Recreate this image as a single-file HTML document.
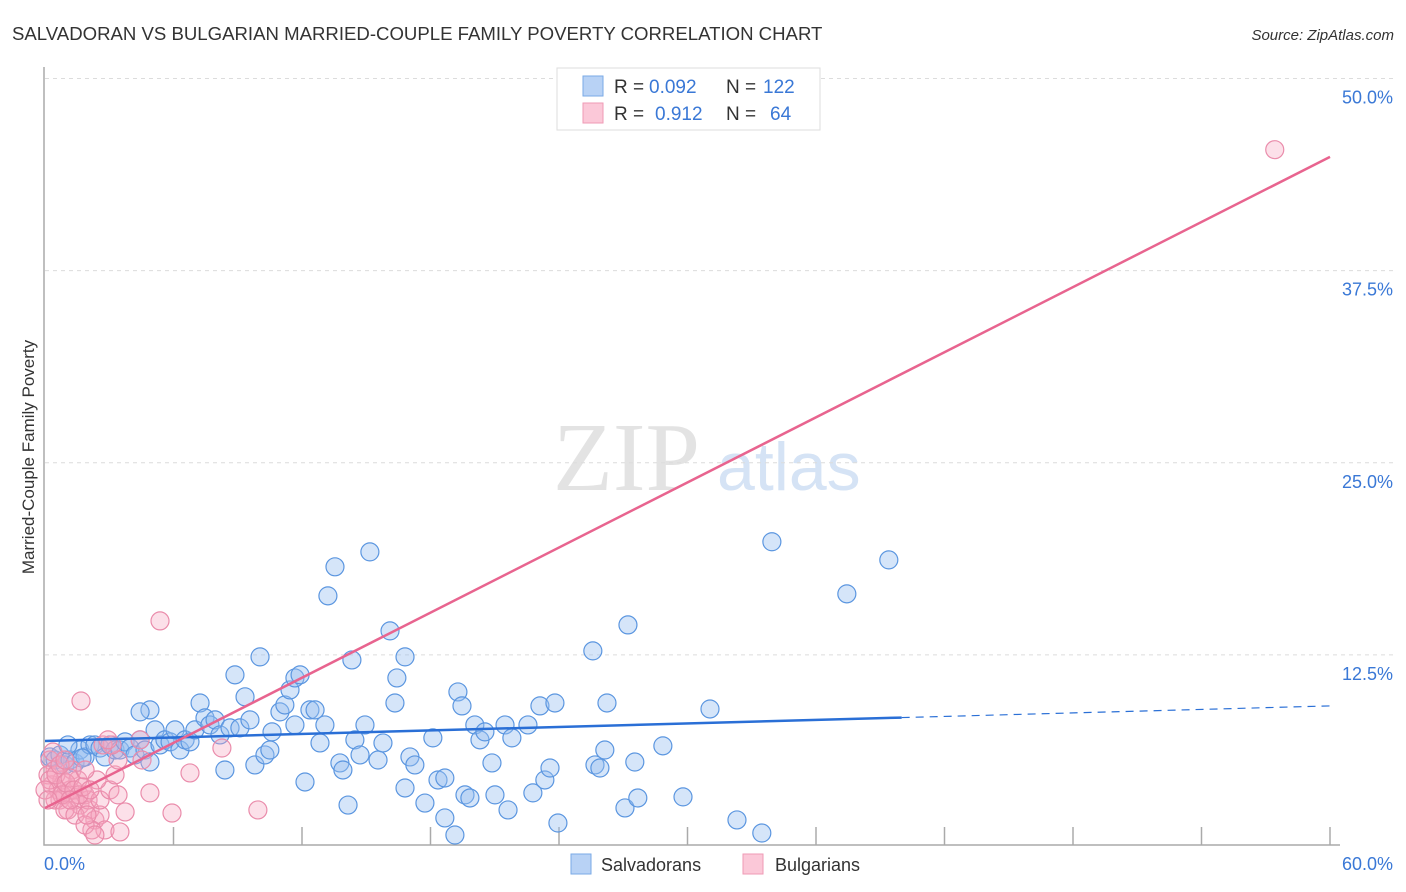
<!DOCTYPE html>
<html><head><meta charset="utf-8"><style>
body{margin:0;background:#fff;font-family:"Liberation Sans",sans-serif;}
svg{display:block}
</style></head><body>
<svg id="chart" width="1406" height="892" xmlns="http://www.w3.org/2000/svg">
<text x="12" y="40" font-size="18.6" fill="#333" font-family="Liberation Sans, sans-serif">SALVADORAN VS BULGARIAN MARRIED-COUPLE FAMILY POVERTY CORRELATION CHART</text>
<text x="1394" y="40" font-size="15" fill="#333" font-style="italic" text-anchor="end">Source: ZipAtlas.com</text>
<g>
<text x="553" y="490" font-size="98" fill="#e3e3e3" font-family="Liberation Serif, serif">ZIP</text>
<text x="717" y="490" font-size="68" fill="#d5e3f5">atlas</text>
</g>
<g id="grid"></g>
<g id="axes"></g>
<g id="marks"></g>
<g id="trends"></g>
<text transform="translate(34,457) rotate(-90)" text-anchor="middle" font-size="17" fill="#333">Married-Couple Family Poverty</text>
<g>
<rect x="557" y="68" width="263" height="62" fill="#fff" stroke="#ddd"/>
<rect x="583" y="76" width="20" height="20" fill="#b8d2f5" stroke="#7aaae6"/>
<rect x="583" y="103" width="20" height="20" fill="#fbc8d8" stroke="#ef9ab5"/>
<text x="614" y="93" font-size="19" fill="#333">R =</text>
<text x="649" y="93" font-size="19" fill="#3a78d6">0.092</text>
<text x="726" y="93" font-size="19" fill="#333">N =</text>
<text x="763" y="93" font-size="19" fill="#3a78d6">122</text>
<text x="614" y="120" font-size="19" fill="#333">R =</text>
<text x="655" y="120" font-size="19" fill="#3a78d6">0.912</text>
<text x="726" y="120" font-size="19" fill="#333">N =</text>
<text x="770" y="120" font-size="19" fill="#3a78d6">64</text>
</g>
<g>
<rect x="571" y="854" width="20" height="20" fill="#b8d2f5" stroke="#7aaae6"/>
<text x="601" y="871" font-size="18" fill="#333">Salvadorans</text>
<rect x="743" y="854" width="20" height="20" fill="#fbc8d8" stroke="#ef9ab5"/>
<text x="775" y="871" font-size="18" fill="#333">Bulgarians</text>
</g>
</svg>
<script>
const yTicks=[12.5,25,37.5,50];
const yTickLabels=["12.5%","25.0%","37.5%","50.0%"];
const xTicks=[0,6,12,18,24,30,36,42,48,54,60];
const xEndLabels=["0.0%","60.0%"];
const blueX=[0.23,0.47,0.70,0.93,1.17,1.40,1.63,1.87,2.10,2.33,2.57,2.80,3.03,3.27,3.50,3.74,3.97,4.20,4.44,4.67,4.90,5.14,5.37,5.60,5.84,6.07,6.30,6.54,6.77,7.00,7.24,7.47,7.70,7.94,8.17,8.40,8.64,8.87,9.10,9.34,9.57,9.80,10.04,10.27,10.50,10.60,10.97,11.20,11.44,11.67,11.67,11.91,12.37,12.61,12.84,12.14,13.07,13.21,13.54,13.77,13.91,14.15,14.33,14.47,14.71,14.94,15.17,15.55,15.78,16.11,16.34,16.43,16.81,16.81,17.04,17.27,17.74,18.11,18.35,18.67,18.67,19.14,19.28,19.47,19.61,19.84,20.07,20.31,20.54,20.87,21.01,21.48,21.62,21.80,22.55,22.78,23.11,23.34,23.58,23.81,23.95,25.58,25.68,25.91,26.14,26.24,27.08,27.22,27.54,27.68,28.85,29.79,31.05,32.31,33.47,33.94,37.44,39.40,1.07,1.73,4.90,4.44];
const blueY=[5.86,5.66,5.99,5.34,5.66,5.47,6.31,5.86,6.64,6.64,6.44,5.86,6.64,6.31,6.31,6.84,6.44,5.99,6.97,6.31,5.53,7.62,6.64,6.97,6.84,7.62,6.31,6.97,6.84,7.62,9.37,8.40,7.94,8.27,7.29,5.01,7.75,11.20,7.75,9.77,8.27,5.34,12.37,5.99,6.31,7.49,8.79,9.24,10.22,7.94,11.00,11.20,8.92,8.92,6.77,4.23,7.94,16.34,18.23,5.47,5.01,2.73,12.17,6.97,5.99,7.94,19.20,5.66,6.77,14.06,9.37,11.00,12.37,3.84,5.86,5.34,2.86,7.10,4.36,4.49,1.89,0.78,10.09,9.18,3.39,3.19,7.94,6.97,7.49,5.47,3.39,7.94,2.41,7.10,7.94,3.52,9.18,4.36,5.14,9.37,1.56,12.76,5.34,5.14,6.31,9.37,2.54,14.45,5.53,3.19,6.58,3.26,8.98,1.76,0.91,19.86,16.47,18.68,6.64,5.79,8.92,8.79];
const pinkX=[0.23,0.47,0.33,0.61,0.79,0.93,1.17,1.40,1.63,1.87,2.10,2.33,2.57,2.80,0.70,1.07,1.26,1.54,2.01,2.19,0.14,0.47,0.93,1.40,1.87,2.33,2.57,3.03,3.27,3.41,3.13,3.74,3.50,4.90,5.37,5.93,6.77,8.26,9.94,1.68,0.23,0.51,0.79,0.98,1.17,1.35,1.59,1.77,1.96,0,0.14,0.37,2.43,2.71,2.94,4.44,4.53,3.41,57.42,0.70,0.93,2.10,1.87,1.17];
const pinkY=[5.66,5.01,4.04,3.71,4.36,3.39,3.71,3.06,2.73,3.39,2.41,1.76,2.08,1.11,3.06,2.41,5.01,4.36,3.06,1.11,4.69,3.06,2.41,2.08,1.43,0.78,3.06,3.71,4.69,5.66,6.64,2.28,0.98,3.52,14.71,2.21,4.82,6.44,2.41,9.50,4.36,4.69,3.39,4.17,4.49,3.71,3.39,3.91,2.08,3.71,3.06,6.18,4.36,6.64,6.97,6.97,5.66,3.39,45.37,5.34,5.66,3.71,5.01,3.06];
const blueTrend=[6.9,9.18];
const blueSolidEnd=[40];
const pinkTrend=[2.54,44.9];

const NS="http://www.w3.org/2000/svg";
const X0=45,X1=1330,Y0=847,YPER=15.37;
const sx=v=>X0+(X1-X0)*v/60;
const sy=v=>Y0-v*YPER;
function mk(tag,attrs,parent){const e=document.createElementNS(NS,tag);for(const k in attrs)e.setAttribute(k,attrs[k]);parent.appendChild(e);return e;}
const grid=document.getElementById('grid'),axes=document.getElementById('axes'),marks=document.getElementById('marks'),trends=document.getElementById('trends');
yTicks.forEach((t,i)=>{
 const l=mk('line',{x1:X0,x2:1393,y1:sy(t),y2:sy(t),stroke:'#dcdcdc','stroke-dasharray':'4,4'},grid);
 
 
 const tx=mk('text',{x:1393,y:sy(t)+25,'text-anchor':'end','font-size':18,fill:'#3a78d6'},grid);
 
 
 tx.textContent=yTickLabels[i];
});
const ax=mk('path',{d:`M${X0-1},67 V${Y0-2} H${X1+10}`,stroke:'#aaa',fill:'none','stroke-width':1.5},axes);


xTicks.forEach(t=>{if(t===0)return;
 const l=mk('line',{x1:sx(t),x2:sx(t),y1:Y0-20,y2:Y0-2,stroke:'#aaa','stroke-width':1.5},axes);
 
 
});
const xl0=mk('text',{x:44,y:870,'font-size':18,fill:'#3a78d6'},axes);


xl0.textContent=xEndLabels[0];
const xl1=mk('text',{x:1393,y:870,'font-size':18,fill:'#3a78d6','text-anchor':'end'},axes);


xl1.textContent=xEndLabels[1];
blueX.forEach((v,i)=>{
 const c=mk('circle',{cx:sx(v),cy:sy(blueY[i]),r:9,fill:'rgba(150,190,240,0.4)',stroke:'#5b96e0','stroke-width':1.2},marks);
 
 
});
pinkX.forEach((v,i)=>{
 const c=mk('circle',{cx:sx(v),cy:sy(pinkY[i]),r:9,fill:'rgba(245,165,192,0.35)',stroke:'#ea8cab','stroke-width':1.2},marks);
 
 
});
const by=x=>blueTrend[0]+(blueTrend[1]-blueTrend[0])*x/60;
const b1=mk('line',{x1:sx(0),y1:sy(by(0)),x2:sx(blueSolidEnd[0]),y2:sy(by(blueSolidEnd[0])),stroke:'#2a6fd6','stroke-width':2.5},trends);


const b2=mk('line',{x1:sx(blueSolidEnd[0]),y1:sy(by(blueSolidEnd[0])),x2:sx(60),y2:sy(by(60)),stroke:'#2a6fd6','stroke-width':1.2,'stroke-dasharray':'8,6'},trends);


const p1=mk('line',{x1:sx(0),y1:sy(pinkTrend[0]),x2:sx(60),y2:sy(pinkTrend[1]),stroke:'#e8648f','stroke-width':2.5},trends);


</script>
</body></html>
